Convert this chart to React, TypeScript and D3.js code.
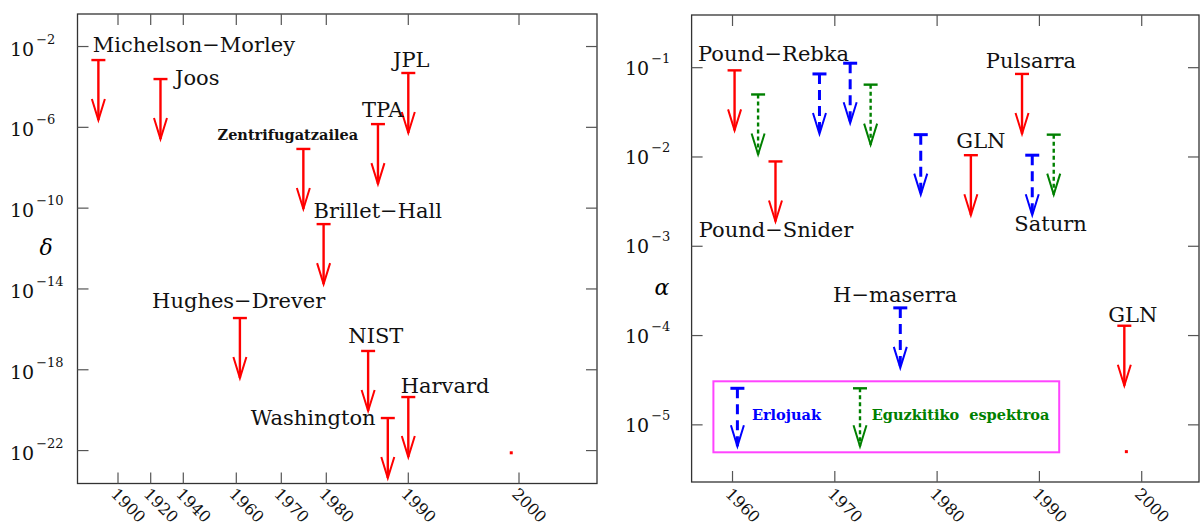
import React from 'react';
import * as d3 from 'd3';

// ---------- data: left panel (delta) ----------
const leftNames = ['Michelson\u2212Morley', 'Joos', 'Hughes\u2212Drever', 'Zentrifugatzailea', 'Brillet\u2212Hall', 'NIST', 'TPA', 'Washington', 'JPL', 'Harvard'];
const leftYears = [1888, 1926, 1960.8, 1974.9, 1979.4, 1985.1, 1986.3, 1987.5, 1990, 1990];
const leftExp = [-2.67, -3.61, -15.44, -7.07, -10.79, -17.07, -5.84, -20.39, -3.31, -19.35];
const leftDotYear = 1999.3;
const leftDotExp = -22.11;
const leftTickYears = [1900, 1920, 1940, 1960, 1970, 1980, 1990, 2000];
const leftTickExps = [-2, -6, -10, -14, -18, -22];

// ---------- data: right panel (alpha) ----------
const rightYears = [1960.2, 1962.5, 1964.2, 1968.5, 1971.5, 1973.5, 1976.4, 1978.4, 1983.3, 1988.3, 1989.3, 1991.4, 1998.3];
const rightExp = [-1.03, -1.3, -2.05, -1.07, -0.95, -1.19, -3.69, -1.75, -1.98, -1.07, -1.98, -1.75, -3.89];
const rightKind = ['red', 'solar', 'red', 'clock', 'clock', 'solar', 'clock', 'clock', 'red', 'red', 'clock', 'solar', 'red'];
const rightLabelNames = ['Pound\u2212Rebka', 'Pound\u2212Snider', 'H\u2212maserra', 'GLN', 'Pulsarra', 'Saturn', 'GLN'];
const rightLabelFor = [0, 2, 6, 8, 9, 10, 12];
const rightDotYear = 1998.5;
const rightDotExp = -5.3;
const rightTickYears = [1960, 1970, 1980, 1990, 2000];
const rightTickExps = [-1, -2, -3, -4, -5];
const legendNames = ['Erlojuak', 'Eguzkitiko  espektroa'];

// ---------- layout / style ----------
const FONT = 'DejaVu Serif';
const L = { x0: 77.5, x1: 597, y0: 14, y1: 483.5 };
const R = { x0: 691.6, x1: 1199, y0: 15, y1: 482 };
const leftTickPx = [118, 150.7, 183.3, 236.3, 281.3, 326.3, 408.3, 519];
// label offsets relative to arrow top [dx, dy, anchor, fontSize]
const leftLabelOff: [number, number, string, number][] = [
  [-5.7, -8.3, 'start', 21], [14.5, 5.7, 'start', 21], [-87.8, -9.7, 'start', 21], [-85.8, -9, 'start', 14.5],
  [-10, -6, 'start', 21], [-19.8, -8.3, 'start', 21], [-16, -7, 'start', 21], [-12.2, 7, 'end', 21],
  [-15.3, -6.3, 'start', 21], [-7.6, -3.7, 'start', 21],
];
const rightLabelOff: [number, number][] = [[-36.5, -9], [-76.7, 76], [-67.2, -5.7], [-14.5, -7], [-36.2, -6], [-17.9, 76], [-16, -3.7]];
const COLORS: Record<string, string> = { red: '#ff0000', clock: '#0000ff', solar: '#008000' };
const DASH: Record<string, string | undefined> = { red: undefined, clock: '10,6', solar: '4,3' };
const WIDTH: Record<string, number> = { red: 2.4, clock: 3, solar: 2.4 };
const ARROW_LEN = 60;

const xL = d3.scaleLinear().domain(leftTickYears).range(leftTickPx);
const yL = d3.scaleLog().domain([Math.pow(10, -23.63), Math.pow(10, -0.39)]).range([L.y1, L.y0]);
const xR = d3.scaleLinear().domain([1956, 2005.6]).range([R.x0, R.x1]);
const yR = d3.scaleLog().domain([Math.pow(10, -5.64), Math.pow(10, -0.41)]).range([R.y1, R.y0]);

function Arrow({ x, y, kind }: { x: number; y: number; kind: string }) {
  const c = COLORS[kind];
  const len = ARROW_LEN;
  return (
    <g stroke={c} fill="none" strokeWidth={WIDTH[kind]}>
      <line x1={x - 7} x2={x + 7} y1={y} y2={y} />
      <line x1={x} x2={x} y1={y} y2={y + len} strokeDasharray={DASH[kind]} />
      <polyline points={`${x - 6.5},${y + len - 21} ${x},${y + len} ${x + 6.5},${y + len - 21}`} strokeWidth={2} />
    </g>
  );
}

function Frame({ b, xTicks, yTicks, xs, ys, labelX, labelDy }: any) {
  return (
    <g>
      <rect x={b.x0} y={b.y0} width={b.x1 - b.x0} height={b.y1 - b.y0} fill="none" stroke="#333" strokeWidth={1.3} />
      {xTicks.map((t: number) => (
        <g key={'x' + t} stroke="#555" strokeWidth={1.2}>
          <line x1={xs(t)} x2={xs(t)} y1={b.y1} y2={b.y1 - 11} />
          <line x1={xs(t)} x2={xs(t)} y1={b.y0} y2={b.y0 + 11} />
        </g>
      ))}
      {xTicks.map((t: number) => (
        <text key={'xl' + t} x={xs(t) - 8} y={495} fontSize={16} fontFamily={FONT}
          transform={`rotate(45 ${xs(t) - 8} 495)`} fill="#111">{t}</text>
      ))}
      {yTicks.map((e: number) => {
        const y = ys(Math.pow(10, e));
        return (
          <g key={'y' + e}>
            <line x1={b.x0} x2={b.x0 + 11} y1={y} y2={y} stroke="#555" strokeWidth={1.2} />
            <line x1={b.x1} x2={b.x1 - 11} y1={y} y2={y} stroke="#555" strokeWidth={1.2} />
            <text x={labelX} y={y + labelDy} fontSize={19} fontFamily={FONT} fill="#111">
              10<tspan dx={2} dy={-12} fontSize={13}>{'\u2212' + Math.abs(e)}</tspan>
            </text>
          </g>
        );
      })}
    </g>
  );
}

export default function App() {
  return (
    <svg width={1200} height={529} style={{ position: 'absolute', left: 0, top: 0, background: '#fff' }}>
      <rect width={1200} height={529} fill="#fff" />
      {/* left panel */}
      <Frame b={L} xTicks={leftTickYears} yTicks={leftTickExps} xs={xL} ys={yL} labelX={10} labelDy={9} />
      <text x={46} y={255} fontSize={22} fontStyle="italic" fontFamily={FONT} textAnchor="middle">δ</text>
      {leftYears.map((yr, i) => (
        <Arrow key={'la' + i} x={xL(yr)} y={yL(Math.pow(10, leftExp[i]))} kind="red" />
      ))}
      {leftNames.map((n, i) => {
        const [dx, dy, anchor, fs] = leftLabelOff[i];
        return (
          <text key={'ll' + i} x={xL(leftYears[i]) + dx} y={yL(Math.pow(10, leftExp[i])) + dy}
            fontSize={fs} fontWeight={fs < 16 ? 'bold' : 'normal'} textAnchor={anchor} fontFamily={FONT} fill="#111">{n}</text>
        );
      })}
      <rect x={xL(leftDotYear) - 1.5} y={yL(Math.pow(10, leftDotExp)) - 1.5} width={3} height={3} fill="#ff0000" />

      {/* right panel */}
      <Frame b={R} xTicks={rightTickYears} yTicks={rightTickExps} xs={xR} ys={yR} labelX={625} labelDy={7} />
      <text x={662} y={295} fontSize={22} fontStyle="italic" fontFamily={FONT} textAnchor="middle">α</text>
      {rightYears.map((yr, i) => (
        <Arrow key={'ra' + i} x={xR(yr)} y={yR(Math.pow(10, rightExp[i]))} kind={rightKind[i]} />
      ))}
      {rightLabelNames.map((n, i) => {
        const k = rightLabelFor[i];
        const [dx, dy] = rightLabelOff[i];
        return (
          <text key={'rl' + i} x={xR(rightYears[k]) + dx} y={yR(Math.pow(10, rightExp[k])) + dy}
            fontSize={21} fontFamily={FONT} fill="#111">{n}</text>
        );
      })}
      <rect x={xR(rightDotYear) - 1.5} y={yR(Math.pow(10, rightDotExp)) - 1.5} width={3} height={3} fill="#ff0000" />

      {/* legend */}
      <rect x={713.4} y={381.3} width={345.8} height={71} fill="none" stroke="#ff44ff" strokeWidth={2} />
      <g transform="translate(737.4,388.3)">
        <line x1={-7} x2={7} y1={0} y2={0} stroke={COLORS.clock} strokeWidth={3} />
        <line x1={0} x2={0} y1={0} y2={58} stroke={COLORS.clock} strokeWidth={3} strokeDasharray={DASH.clock} />
        <polyline points="-6.5,37 0,58 6.5,37" fill="none" stroke={COLORS.clock} strokeWidth={2} />
        <text x={14.5} y={32} fontSize={14.5} fontWeight="bold" fontFamily={FONT} fill={COLORS.clock}>{legendNames[0]}</text>
      </g>
      <g transform="translate(860,388.3)">
        <line x1={-7} x2={7} y1={0} y2={0} stroke={COLORS.solar} strokeWidth={2.4} />
        <line x1={0} x2={0} y1={0} y2={58} stroke={COLORS.solar} strokeWidth={2.4} strokeDasharray={DASH.solar} />
        <polyline points="-6.5,37 0,58 6.5,37" fill="none" stroke={COLORS.solar} strokeWidth={2} />
        <text x={11.7} y={32} fontSize={14.5} fontWeight="bold" fontFamily={FONT} fill={COLORS.solar} style={{ whiteSpace: 'pre' }}>{legendNames[1]}</text>
      </g>
    </svg>
  );
}
